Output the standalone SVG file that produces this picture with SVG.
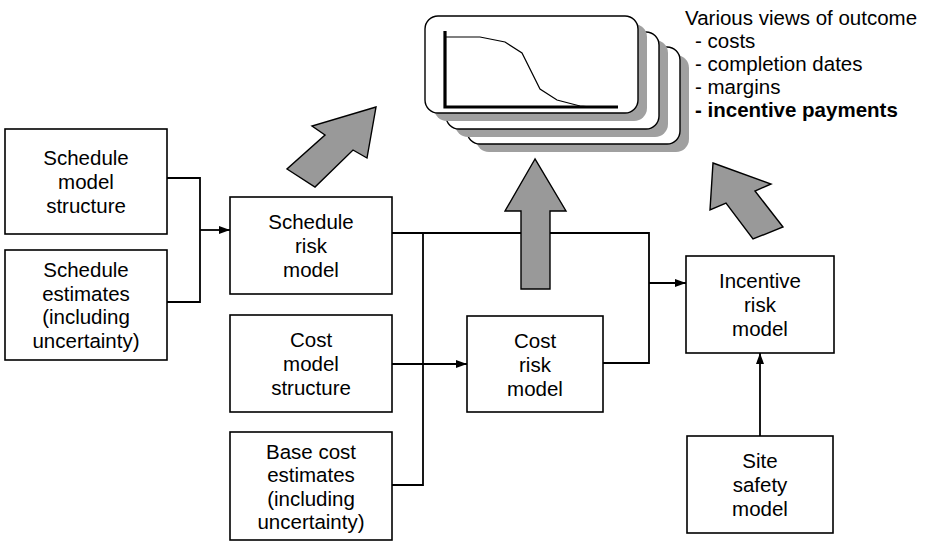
<svg xmlns="http://www.w3.org/2000/svg" width="930" height="542" viewBox="0 0 930 542">
<style>
.box{fill:#fff;stroke:#000;stroke-width:1.6}
.card{fill:#fff;stroke:#000;stroke-width:1.4}
.shadow{fill:#a0a0a0;stroke:none}
.big{fill:#999;stroke:#000;stroke-width:1.4;stroke-linejoin:miter}
.conn{fill:none;stroke:#000;stroke-width:1.8}
text{font-family:"Liberation Sans",Arial,Helvetica,sans-serif;font-size:20.5px;fill:#000}
.c{text-anchor:middle}
</style>
<defs>
<marker id="ah" markerUnits="userSpaceOnUse" markerWidth="12" markerHeight="8" refX="11" refY="4" orient="auto">
<path d="M0,0 L11,4 L0,8 z" fill="#000"/>
</marker>
</defs>
<rect width="930" height="542" fill="#fff"/>

<g id="outcome-cards">
<rect class="shadow" x="476" y="55" width="213" height="97" rx="13"/>
<rect class="card" x="467" y="47" width="213" height="97" rx="13"/>
<rect class="shadow" x="455" y="40" width="213" height="97" rx="13"/>
<rect class="card" x="446" y="32" width="213" height="97" rx="13"/>
<rect class="shadow" x="434" y="24" width="213" height="97" rx="13"/>
<rect class="card" x="425" y="16" width="213" height="97" rx="13"/>
<path d="M445,31 V107 H618" fill="none" stroke="#000" stroke-width="3.2"/>
<path d="M445,37 L480,37 L505,42 L522,53 L540,89 L557,100 L580,106 L592,107" fill="none" stroke="#000" stroke-width="1.2"/>
</g>

<g id="outcome-label">
<text x="685" y="25">Various views of outcome</text>
<text x="695" y="48">- costs</text>
<text x="695" y="71">- completion dates</text>
<text x="695" y="94">- margins</text>
<text x="695" y="117" font-weight="bold">- incentive payments</text>
</g>

<g id="connectors">
<path class="conn" d="M167,178 H200 V302 H167"/>
<path class="conn" d="M200,230 H230" marker-end="url(#ah)"/>
<path class="conn" d="M392,233 H649 V363 H603"/>
<path class="conn" d="M423,233 V485 H392"/>
<path class="conn" d="M392,364 H467" marker-end="url(#ah)"/>
<path class="conn" d="M649,283 H686" marker-end="url(#ah)"/>
<path class="conn" d="M760,436 V353" marker-end="url(#ah)"/>
</g>

<g id="big-arrows">
<polygon class="big" points="376,107 312,126 325,135 287,169 315,187 353,150 367,158"/>
<polygon class="big" points="535,159 505,211 521,211 521,289 550,289 550,211 566,211"/>
<polygon class="big" points="713,163 771,184 755,191 783,227 753,239 726,203 710,210"/>
</g>

<g id="schedule-model-structure">
<rect class="box" x="5" y="129" width="162" height="105"/>
<text class="c" x="86" y="165">Schedule</text>
<text class="c" x="86" y="189">model</text>
<text class="c" x="86" y="213">structure</text>
</g>

<g id="schedule-estimates">
<rect class="box" x="5" y="250" width="162" height="110"/>
<text class="c" x="86" y="277">Schedule</text>
<text class="c" x="86" y="300.5">estimates</text>
<text class="c" x="86" y="324">(including</text>
<text class="c" x="86" y="347.5">uncertainty)</text>
</g>

<g id="schedule-risk-model">
<rect class="box" x="230" y="197" width="162" height="97"/>
<text class="c" x="311" y="229">Schedule</text>
<text class="c" x="311" y="253">risk</text>
<text class="c" x="311" y="277">model</text>
</g>

<g id="cost-model-structure">
<rect class="box" x="230" y="315" width="162" height="97"/>
<text class="c" x="311" y="347">Cost</text>
<text class="c" x="311" y="371">model</text>
<text class="c" x="311" y="395">structure</text>
</g>

<g id="base-cost-estimates">
<rect class="box" x="230" y="432" width="162" height="108"/>
<text class="c" x="311" y="458.5">Base cost</text>
<text class="c" x="311" y="482">estimates</text>
<text class="c" x="311" y="505.5">(including</text>
<text class="c" x="311" y="529">uncertainty)</text>
</g>

<g id="cost-risk-model">
<rect class="box" x="467" y="316" width="136" height="96"/>
<text class="c" x="535" y="348">Cost</text>
<text class="c" x="535" y="372">risk</text>
<text class="c" x="535" y="396">model</text>
</g>

<g id="incentive-risk-model">
<rect class="box" x="686" y="256" width="148" height="97"/>
<text class="c" x="760" y="288">Incentive</text>
<text class="c" x="760" y="312">risk</text>
<text class="c" x="760" y="336">model</text>
</g>

<g id="site-safety-model">
<rect class="box" x="687" y="436" width="146" height="97"/>
<text class="c" x="760" y="468">Site</text>
<text class="c" x="760" y="492">safety</text>
<text class="c" x="760" y="516">model</text>
</g>
</svg>
